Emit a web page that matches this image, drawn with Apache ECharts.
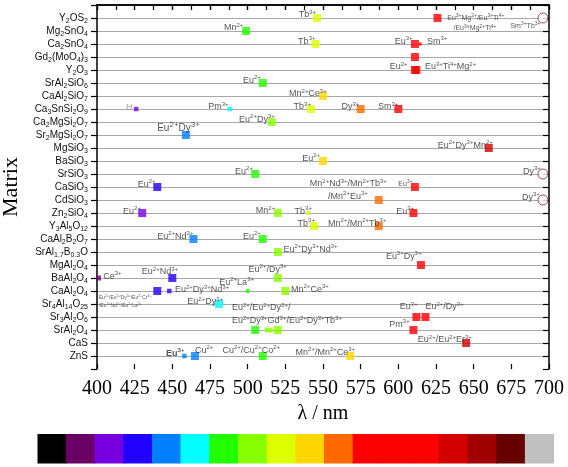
<!DOCTYPE html>
<html><head><meta charset="utf-8">
<script src="https://cdn.jsdelivr.net/npm/echarts@6/dist/echarts.min.js"></script>
<style>html,body{margin:0;padding:0;background:#fff}#c{width:568px;height:467px}</style>
</head><body><div id="c"></div>
<script>
// ---------------- DATA ----------------
const MATRIX = ['Y2OS2','Mg2SnO4','Ca2SnO4','Gd2(MoO4)3','Y2O3','SrAl2SiO6','CaAl2SiO7','Ca3SnSi2O9',
  'Ca2MgSi2O7','Sr2MgSi2O7','MgSiO3','BaSiO3','SrSiO3','CaSiO3','CdSiO3','Zn2SiO4','Y3Al5O12',
  'CaAl2B2O7','SrAl1.7B0.3O','MgAl2O4','BaAl2O4','CaAl2O4','Sr4Al14O25','Sr3Al2O6','SrAl2O4','CaS','ZnS'];

const PT_MATRIX = ['Y2OS2','Y2OS2','Y2OS2','Mg2SnO4','Ca2SnO4','Ca2SnO4','Ca2SnO4','Gd2(MoO4)3','Y2O3','Y2O3',
  'SrAl2SiO6','CaAl2SiO7','Ca3SnSi2O9','Ca3SnSi2O9','Ca3SnSi2O9','Ca3SnSi2O9','Ca3SnSi2O9','Ca2MgSi2O7',
  'Sr2MgSi2O7','MgSiO3','BaSiO3','SrSiO3','SrSiO3','CaSiO3','CaSiO3','CdSiO3','CdSiO3',
  'Zn2SiO4','Zn2SiO4','Zn2SiO4','Zn2SiO4','Y3Al5O12','Y3Al5O12','CaAl2B2O7','CaAl2B2O7','SrAl1.7B0.3O',
  'MgAl2O4','BaAl2O4','BaAl2O4','BaAl2O4','CaAl2O4','CaAl2O4','CaAl2O4','CaAl2O4','Sr4Al14O25',
  'Sr3Al2O6','Sr3Al2O6','SrAl2O4','SrAl2O4','SrAl2O4','SrAl2O4','CaS','ZnS','ZnS','ZnS','ZnS'];
const PT_NM = [546,626,696,499,545,611,614.5,611,611,612,
  510,550,426,488,542,575,600,516,
  459,660,550,505,696,440,611,587,696,
  430,520,540,610,544,587,464,510,520,
  615,401,450,520,440,448,500,525,481,
  612,618,505,514,520,610,645,458,465,510,568];
const PT_ION = ['Tb3+','Eu3+Mg2+/Eu3+Ti4+','Sm3+Tb3+','Mn2+','Tb3+','Eu3+','Sm3+','','Eu2+','Eu3+Ti4+Mg2+',
  'Eu2+','Mn2+Ce3+','(-)','Pm3+','Tb3+','Dy3+','Sm3+','Eu2+Dy3+',
  'Eu2+Dy3+','Eu2+Dy3+Mn2+','Eu2+','Eu2+','Dy3+','Eu2+','Eu3+','/Mn2+Eu3+','Dy3+',
  'Eu2+','Mn2+','Tb3+','Eu3+','Tb3+','Mn2+/Mn2+Tb3+','Eu2+Nd3+','Eu2+','Eu2+Dy3+Nd3+',
  'Eu2+Dy3+','Ce3+','Eu2+Nd3+','Eu2+/Dy3+','Eu2+/Eu2+Dy3+/Eu2+Cr3+','Eu2+Dy3+Nd3+','Eu2+La3+','Mn2+Ce3+','Eu2+Dy3+',
  'Eu3+','Eu2+/Dy3+','Eu2+/Eu2+Dy3+/','','','Pm3+','Eu2+/Eu2+Er3+','Eu3+','Cu2+','Cu2+/Cu2+Co2+','Mn2+/Mn2+Ce3+'];
// second text lines belonging to some points
const EXTRA_OF  = [1, 25, 40, 47];
const EXTRA_ION = ['/Eu3+Mg2+Ti4+','Mn2+Nd3+/Mn2+Tb3+','/Eu2+Nd2+/Eu2+La3+','Eu2+Dy3+Gd3+/Eu2+Dy3+Tb3+'];
// colour scale shown under the chart
const COLORBAR = ['#000000','#6a0066','#7800e0','#2200ff','#0080ff','#00ffff','#22ff00','#88ff00','#ddff00',
  '#ffd700','#ff6a00','#ff0000','#ff0000','#ff0000','#d40000','#a00000','#660000','#c0c0c0'];

// ---------------- STYLE ----------------
const CIRCLES = [2, 22, 26];
const SIZE = {6:3, 12:4.5, 13:4.5, 29:4, 37:5, 41:4.5, 42:4, 48:[8,5], 52:4.5, 2:10, 22:10, 26:10};
const PLACE = [
  ['r',-1,-3],['l',9.7,0,'s'],['r',-2,8.5,'s'],['r',-2.7,-3],['r',0,-2.3],['r',-2.3,-2.3],['l',6.7,-2.3],null,['r',-7.3,-3],['l',8.6,-3],
  ['r',-2,-2.3],['r',3.7,-2],['r',-4,-2.3,'t6'],['r',-1,-2],['r',0,-2],['r',-1.3,-2],['r',0,-2],['r',3,-2.7],
  ['r',14,-6.7,'b'],['r',4,-2.3],['r',-3,-2.3],['r',-2.3,-2.3],['r',-1.7,-1.7],['r',-1.7,-2.3],['r',-2.3,-3.3,'s'],['r',-11,-3.3],['r',-2.7,-1.7],
  ['r',-1.3,-1.7],['r',-2.7,-2],['r',4,-1.7],['r',0.7,-1.7],['r',1,-2.3],['r',7.7,-2.3],['r',0,-2.3],['r',-2,-2.3],['l',5.7,-2.3],
  ['r',0.7,-8.3],['l',4.7,-1.7],['r',5.7,-6],['r',9,-8.7],['l',-58.3,7,'t'],['l',5.7,-1],['r',6.3,-8.3],['l',5.7,-1.7],['r',4,-2],
  ['r',1.3,-10],['l',0,-10],['l',-23.3,-22],null,null,['r',-3.7,-5.7],['r',5.7,-3],['r',0,-2.3,'k'],['l',0,-5.7],['r',17.3,-5.7],['r',5,-3.7]
];
const EXTRA_PLACE = [['l',16,10.3,'s'],['r',8,-16],['l',-58.3,14.5,'t'],['l',-23.3,-9]];
const FONT = {
  n:{size:9, lh:12, sup:6}, s:{size:7, lh:9, sup:5}, t:{size:5, lh:7, sup:3.5}, t6:{size:6, lh:8, sup:4},
  b:{size:10, lh:16, sup:8}, k:{size:9, lh:12, sup:6, bold:true}
};
const FAM = 'Liberation Sans';
const COLOR_EDGES = [410,435,455,470,495,513,530,549,572,595,640,670];
const COLOR_BINS  = ['#6a0066','#7800e0','#2200ff','#0080ff','#00ffff','#22ff00','#88ff00','#ddff00','#ffd700','#ff6a00','#ff0000','#cc0000','#a00000'];
function nmColor(nm){ for(let i=0;i<COLOR_EDGES.length;i++){ if(nm<COLOR_EDGES[i]) return COLOR_BINS[i]; } return COLOR_BINS[COLOR_BINS.length-1]; }
const subFmt = s => s.replace(/([0-9.]+)/g, '{b|$1}');
const supFmt = s => s.replace(/(\d\+)/g, '{p|$1}');

function labelCfg(text, place, w, h){
  if(!place || !text) return {show:false};
  const f = FONT[place[3]||'n'];
  const col = '#2a2a2a';
  return {
    show:true, formatter: supFmt(text),
    position:[w/2+place[1], h/2+place[2]],
    align: place[0]==='l'?'left':'right', verticalAlign:'middle',
    fontFamily:FAM, fontSize:f.size, lineHeight:f.lh, color:col, fontWeight: f.bold?'bold':'normal',
    rich:{p:{fontFamily:FAM, fontSize:f.sup, verticalAlign:'top', color:col, fontWeight: f.bold?'bold':'normal'}}
  };
}
const rowOf = m => MATRIX.indexOf(m) + 1;

const markerData = PT_NM.map((nm,i)=>{
  const sz = SIZE[i] !== undefined ? SIZE[i] : 8;
  const w = Array.isArray(sz)?sz[0]:sz, h = Array.isArray(sz)?sz[1]:sz;
  const circ = CIRCLES.indexOf(i) >= 0;
  return {
    value:[nm, rowOf(PT_MATRIX[i])],
    symbol: circ ? 'circle' : 'rect',
    symbolSize: sz,
    itemStyle: circ ? {color:'#fff', borderColor:'#8b2323', borderWidth:1} : {color:nmColor(nm)},
    label: labelCfg(PT_ION[i], PLACE[i], w, h)
  };
});
const extraData = EXTRA_OF.map((pi,k)=>({
  value:[PT_NM[pi], rowOf(PT_MATRIX[pi])],
  symbol:'rect', symbolSize:1, itemStyle:{color:'rgba(0,0,0,0)'},
  label: labelCfg(EXTRA_ION[k], EXTRA_PLACE[k], 1, 1)
}));

const chart = echarts.init(document.getElementById('c'));
const ROWS = MATRIX.length;
const axisLineStyle = {lineStyle:{color:'#000', width:1.5}};
const tickStyle = {color:'#000', width:1.2};
const yCommon = {type:'value', gridIndex:0, inverse:true, min:0, max:ROWS+1, interval:1};

chart.setOption({
  animation:false,
  backgroundColor:'#fff',
  grid:[
    {left:97, right:19, top:5, bottom:98, outerBoundsMode:'none'},
    {left:37.5, width:516.5, top:434, height:29.5, outerBoundsMode:'none'}
  ],
  xAxis:[
    {gridIndex:0, type:'value', position:'bottom', min:400, max:700, interval:25,
     name:'λ / nm', nameLocation:'middle', nameGap:35,
     nameTextStyle:{fontFamily:'Liberation Serif', fontSize:20, color:'#000'},
     axisLine:axisLineStyle, axisTick:{inside:false, length:5, lineStyle:tickStyle},
     minorTick:{show:true, splitNumber:2, length:3, lineStyle:{color:'#000', width:1}},
     axisLabel:{margin:10, fontFamily:'Liberation Serif', fontSize:20, color:'#000'},
     splitLine:{show:false}, minorSplitLine:{show:false}},
    {gridIndex:0, type:'value', position:'top', min:400, max:700, interval:12.5,
     axisLine:axisLineStyle, axisTick:{inside:true, length:5, lineStyle:tickStyle},
     axisLabel:{show:false}, splitLine:{show:false}},
    {gridIndex:0, type:'value', position:'bottom', min:400, max:700, interval:25,
     axisLine:{show:false}, axisTick:{inside:true, length:5, lineStyle:tickStyle},
     axisLabel:{show:false}, splitLine:{show:false}},
    {gridIndex:1, type:'category', data:COLORBAR.map((c,i)=>String(i)), show:false}
  ],
  yAxis:[
    Object.assign({}, yCommon, {position:'left', name:'Matrix', nameLocation:'middle', nameGap:60,
     nameTextStyle:{fontFamily:'Liberation Serif', fontSize:22, color:'#000'},
     axisLine:axisLineStyle, axisTick:{inside:false, length:6, lineStyle:tickStyle},
     axisLabel:{margin:9, fontFamily:FAM, fontSize:10, lineHeight:14, color:'#111',
       formatter: v => (v>=1 && v<=ROWS && Math.round(v)===v) ? subFmt(MATRIX[v-1]) : '',
       rich:{b:{fontFamily:FAM, fontSize:7, verticalAlign:'bottom', color:'#111'}}},
     splitLine:{show:true, showMinLine:false, showMaxLine:false, lineStyle:{color:'#a8a8a8', width:1}}}),
    Object.assign({}, yCommon, {position:'right',
     axisLine:axisLineStyle, axisTick:{inside:true, length:6, lineStyle:tickStyle},
     axisLabel:{show:false}, splitLine:{show:false}}),
    {gridIndex:1, type:'value', min:0, max:1, show:false, splitLine:{show:false}}
  ],
  series:[
    {type:'scatter', xAxisIndex:0, yAxisIndex:0, silent:true, data:markerData, z:3},
    {type:'scatter', xAxisIndex:0, yAxisIndex:0, silent:true, data:extraData, z:4},
    {type:'bar', xAxisIndex:3, yAxisIndex:2, silent:true, barWidth:29.6, barGap:'0%',
     data: COLORBAR.map(c=>({value:1, itemStyle:{color:c}}))}
  ]
});
</script>
</body></html>
